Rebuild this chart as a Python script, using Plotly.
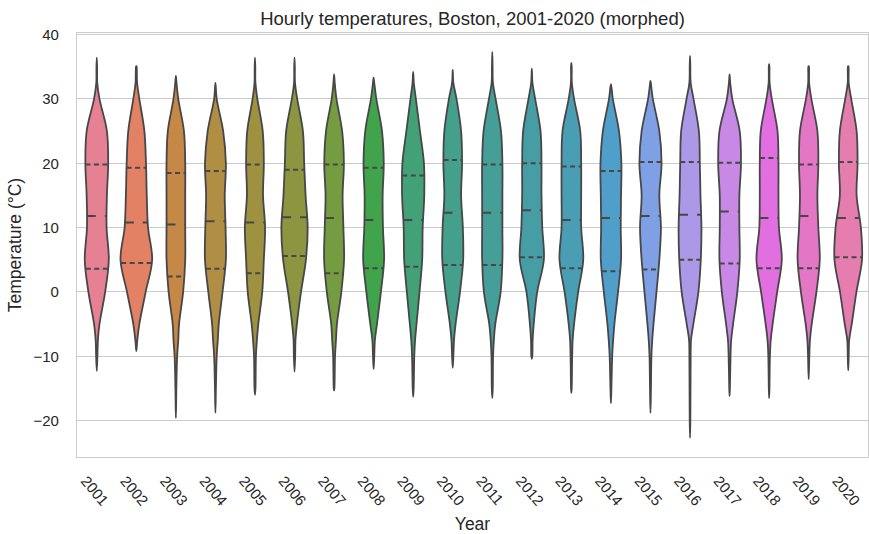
import colorsys
import math

import numpy as np
import plotly.graph_objects as go

# Hourly temperature distributions per year.
YEARS = [str(y) for y in range(2001, 2021)]

# temperature levels (degC) at which the relative density of each year is given
LEVELS = [-20, -15, -10, -7.5, -5, 0, 5, 10, 15, 20, 25, 30, 32.5, 35]

T_MIN = [-12.3, -9.2, -19.6, -18.8, -16.0, -12.4, -15.3, -12.0, -16.3, -11.8,
         -16.5, -10.4, -15.7, -17.3, -18.8, -22.7, -16.2, -16.5, -13.6, -12.2]
T_MAX = [36.4, 35.1, 33.6, 32.5, 36.4, 36.4, 33.8, 33.3, 34.2, 34.5,
         37.3, 34.7, 35.6, 32.3, 32.8, 36.7, 33.8, 35.4, 35.1, 35.1]
Q1 = [3.6, 4.5, 2.4, 3.6, 2.9, 5.6, 2.9, 3.7, 3.9, 4.2,
      4.2, 5.4, 3.7, 3.2, 3.5, 5.0, 4.4, 3.7, 3.7, 5.4]
MEDIAN = [11.8, 10.8, 10.5, 11.0, 10.8, 11.6, 11.5, 11.2, 11.2, 12.3,
          12.3, 12.7, 11.2, 11.5, 11.8, 12.0, 12.5, 11.5, 11.8, 11.5]
Q3 = [19.8, 19.3, 18.5, 18.8, 19.8, 19.0, 19.8, 19.3, 18.1, 20.5,
      19.8, 20.0, 19.5, 18.8, 20.2, 20.2, 20.1, 20.8, 19.8, 20.2]

# relative density (1 = widest violin) at each of LEVELS, one row per year
DENSITY = [
    [0, 0, 0.04, 0.07, 0.17, 0.53, 0.76, 0.62, 0.64, 0.72, 0.64, 0.17, 0.03, 0.02],
    [0, 0, 0, 0.06, 0.19, 0.59, 1.00, 0.74, 0.66, 0.61, 0.51, 0.19, 0.05, 0.02],
    [0, 0.03, 0.08, 0.15, 0.20, 0.46, 0.59, 0.59, 0.59, 0.59, 0.51, 0.15, 0.04, 0],
    [0, 0.03, 0.08, 0.15, 0.21, 0.45, 0.66, 0.64, 0.59, 0.66, 0.49, 0.08, 0, 0],
    [0, 0.03, 0.06, 0.12, 0.21, 0.46, 0.56, 0.64, 0.51, 0.56, 0.49, 0.15, 0.03, 0.02],
    [0, 0, 0.04, 0.06, 0.15, 0.41, 0.72, 0.83, 0.70, 0.61, 0.53, 0.17, 0.03, 0.02],
    [0, 0.02, 0.06, 0.12, 0.18, 0.46, 0.63, 0.59, 0.54, 0.62, 0.51, 0.15, 0.04, 0],
    [0, 0, 0.04, 0.08, 0.21, 0.46, 0.66, 0.59, 0.57, 0.64, 0.53, 0.17, 0.04, 0],
    [0, 0.03, 0.07, 0.12, 0.21, 0.40, 0.57, 0.60, 0.70, 0.68, 0.43, 0.17, 0.04, 0],
    [0, 0, 0.04, 0.08, 0.18, 0.46, 0.66, 0.64, 0.53, 0.59, 0.53, 0.24, 0.04, 0],
    [0, 0.03, 0.05, 0.10, 0.19, 0.53, 0.64, 0.64, 0.64, 0.64, 0.55, 0.21, 0.04, 0.02],
    [0, 0, 0.03, 0.05, 0.12, 0.34, 0.76, 0.66, 0.61, 0.61, 0.55, 0.21, 0.04, 0],
    [0, 0.02, 0.05, 0.08, 0.17, 0.43, 0.75, 0.62, 0.62, 0.62, 0.56, 0.17, 0.03, 0.02],
    [0, 0.03, 0.08, 0.14, 0.22, 0.45, 0.64, 0.62, 0.64, 0.66, 0.51, 0.12, 0, 0],
    [0, 0.03, 0.06, 0.11, 0.19, 0.38, 0.56, 0.66, 0.56, 0.70, 0.56, 0.15, 0.02, 0],
    [0.02, 0.03, 0.04, 0.06, 0.21, 0.53, 0.68, 0.72, 0.66, 0.62, 0.56, 0.22, 0.04, 0.02],
    [0, 0.02, 0.06, 0.10, 0.22, 0.49, 0.64, 0.62, 0.62, 0.72, 0.64, 0.17, 0.04, 0],
    [0, 0.02, 0.05, 0.10, 0.22, 0.51, 0.80, 0.62, 0.59, 0.59, 0.53, 0.17, 0.03, 0.02],
    [0, 0, 0.04, 0.08, 0.19, 0.49, 0.70, 0.61, 0.55, 0.61, 0.55, 0.17, 0.03, 0.02],
    [0, 0, 0.03, 0.06, 0.22, 0.52, 0.87, 0.80, 0.53, 0.59, 0.53, 0.19, 0.03, 0.02],
]

# --- husl palette (same maths as seaborn's husl_palette) -------------------
M = [[3.2406, -1.5372, -0.4986], [-0.9689, 1.8758, 0.0415], [0.0557, -0.2040, 1.0570]]
REF_U, REF_V = 0.19784, 0.46834


def max_chroma(L, H):
    hrad = math.radians(H)
    sinh, cosh = math.sin(hrad), math.cos(hrad)
    sub1 = (L + 16) ** 3 / 1560896.0
    sub2 = sub1 if sub1 > 0.008856 else L / 903.3
    best = float("inf")
    for m1, m2, m3 in M:
        top = (0.99915 * m1 + 1.05122 * m2 + 1.14460 * m3) * sub2
        rbottom = 0.86330 * m3 - 0.17266 * m2
        lbottom = 0.12949 * m3 - 0.38848 * m1
        bottom = (rbottom * sinh + lbottom * cosh) * sub2
        for t in (0.0, 1.0):
            c = L * (top - 1.05122 * t) / (bottom + 0.17266 * sinh * t)
            if 0.0 < c < best:
                best = c
    return best


def husl_to_rgb(H, S, L):
    C = max_chroma(L, H) / 100.0 * S
    U = math.cos(math.radians(H)) * C
    V = math.sin(math.radians(H)) * C
    var_y = ((L + 16) / 116.0) ** 3 if L > 8 else L / 903.3
    var_u = U / (13 * L) + REF_U
    var_v = V / (13 * L) + REF_V
    Y = var_y
    X = -(9 * Y * var_u) / ((var_u - 4) * var_v - var_u * var_v)
    Z = (9 * Y - 15 * var_v * Y - var_v * X) / (3 * var_v)
    out = []
    for row in M:
        c = row[0] * X + row[1] * Y + row[2] * Z
        c = 12.92 * c if c <= 0.0031308 else 1.055 * c ** (1 / 2.4) - 0.055
        out.append(min(max(c, 0.0), 1.0))
    return out


def violin_colors(n, saturation=0.75):
    hues = (np.linspace(0, 1, n + 1)[:-1] + 0.01) % 1 * 359
    cols = []
    for h in hues:
        r, g, b = husl_to_rgb(h, 0.9 * 99, 0.65 * 99)
        hh, ll, ss = colorsys.rgb_to_hls(r, g, b)
        cols.append(colorsys.hls_to_rgb(hh, ll, ss * saturation))
    return cols


rgb_cols = violin_colors(len(YEARS))
fill_cols = ["rgb({:.0f},{:.0f},{:.0f})".format(*(255 * np.array(c))) for c in rgb_cols]
GRAY = "#474747"

HALF_WIDTH = 0.4  # seaborn's width=0.8

fig = go.Figure()

for i, year in enumerate(YEARS):
    ys = [T_MIN[i]]
    ws = [0.0]
    for lev, d in zip(LEVELS, DENSITY[i]):
        if T_MIN[i] < lev < T_MAX[i]:
            ys.append(lev)
            ws.append(d)
    ys.append(T_MAX[i])
    ws.append(0.0)
    hw = HALF_WIDTH * np.array(ws)

    px = list(i + hw) + list(i - hw)[-2::-1]
    py = ys + ys[-2::-1]
    fig.add_trace(go.Scatter(
        x=px, y=py, mode="lines", fill="toself", fillcolor=fill_cols[i],
        line=dict(color=GRAY, width=1.8, shape="spline", smoothing=1),
        hoverinfo="skip", name=year))

    # quartile lines, drawn left to right across the violin
    for q, dash in ((Q1[i], "5px,3.5px"), (MEDIAN[i], "9px,9px"), (Q3[i], "5px,3.5px")):
        w = HALF_WIDTH * np.interp(q, ys, ws)
        fig.add_trace(go.Scatter(
            x=[i - w, i + w], y=[q, q], mode="lines",
            line=dict(color=GRAY, width=2, dash=dash),
            hoverinfo="skip", showlegend=False))

fig.update_layout(
    width=869, height=534, autosize=False,
    margin=dict(l=76.7, r=0.7, t=32.7, b=76.7),
    plot_bgcolor="white", paper_bgcolor="white",
    showlegend=False,
    font=dict(family="Liberation Sans, Arial, sans-serif", color="#262626"),
    title=dict(text="Hourly temperatures, Boston, 2001-2020 (morphed)",
               x=0.5, xref="paper", xanchor="center",
               y=1 - 18.5 / 534, yref="container", yanchor="middle",
               font=dict(size=18.5, color="#262626")),
    xaxis=dict(range=[-0.5, 19.5], tickvals=list(range(len(YEARS))), ticktext=YEARS,
               tickangle=50, showgrid=False, zeroline=False,
               showline=True, mirror=True, linecolor="#cccccc", linewidth=1.25,
               tickfont=dict(size=15, color="#262626"),
               ticklabelstandoff=8, ticklabelshift=-11,
               title=dict(text="Year", font=dict(size=17.5), standoff=10)),
    yaxis=dict(range=[-25.66, 40.25], tickvals=[-20, -10, 0, 10, 20, 30, 40],
               showgrid=True, gridcolor="#cccccc", gridwidth=1, zeroline=False,
               showline=True, mirror=True, linecolor="#cccccc", linewidth=1.25,
               tickfont=dict(size=15, color="#262626"),
               ticklabelstandoff=14,
               title=dict(text="Temperature (°C)", font=dict(size=17.5), standoff=7)),
)

# the page body has a default 8px margin; drop it so the figure fills the window
fig.write_html("out.html", config={"displayModeBar": False},
               post_script="document.body.style.margin='0';document.body.style.overflow='hidden';")
